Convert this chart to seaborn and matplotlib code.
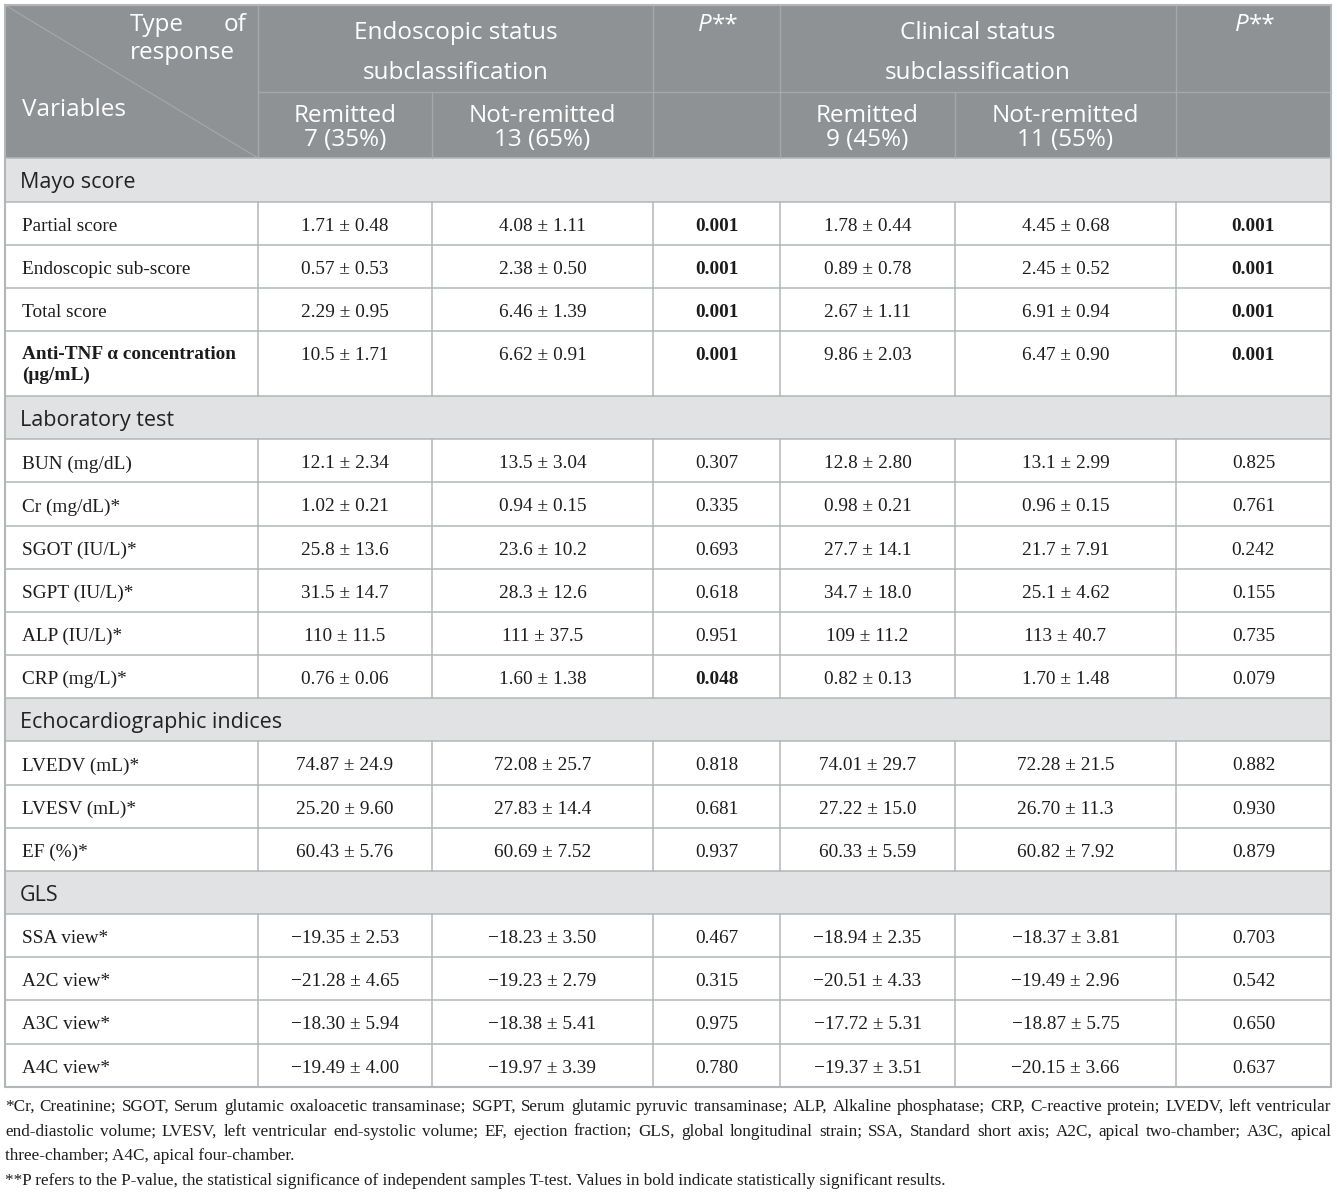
import matplotlib
matplotlib.use("Agg")
import matplotlib.pyplot as plt
from matplotlib.patches import Rectangle
import seaborn as sns

sections = ["Mayo score", "Laboratory test", "Echocardiographic indices", "GLS"]
section_sizes = [4, 6, 3, 4]

variables = ["Partial score", "Endoscopic sub-score", "Total score",
             "Anti-TNF α concentration\n(μg/mL)",
             "BUN (mg/dL)", "Cr (mg/dL)*", "SGOT (IU/L)*", "SGPT (IU/L)*", "ALP (IU/L)*", "CRP (mg/L)*",
             "LVEDV (mL)*", "LVESV (mL)*", "EF (%)*",
             "SSA view*", "A2C view*", "A3C view*", "A4C view*"]
bold_variables = ["Anti-TNF α concentration\n(μg/mL)"]

endo_rem_mean = ["1.71", "0.57", "2.29", "10.5", "12.1", "1.02", "25.8", "31.5", "110", "0.76",
                 "74.87", "25.20", "60.43", "−19.35", "−21.28", "−18.30", "−19.49"]
endo_rem_sd = ["0.48", "0.53", "0.95", "1.71", "2.34", "0.21", "13.6", "14.7", "11.5", "0.06",
               "24.9", "9.60", "5.76", "2.53", "4.65", "5.94", "4.00"]
endo_not_mean = ["4.08", "2.38", "6.46", "6.62", "13.5", "0.94", "23.6", "28.3", "111", "1.60",
                 "72.08", "27.83", "60.69", "−18.23", "−19.23", "−18.38", "−19.97"]
endo_not_sd = ["1.11", "0.50", "1.39", "0.91", "3.04", "0.15", "10.2", "12.6", "37.5", "1.38",
               "25.7", "14.4", "7.52", "3.50", "2.79", "5.41", "3.39"]
endo_p = ["0.001", "0.001", "0.001", "0.001", "0.307", "0.335", "0.693", "0.618", "0.951", "0.048",
          "0.818", "0.681", "0.937", "0.467", "0.315", "0.975", "0.780"]

clin_rem_mean = ["1.78", "0.89", "2.67", "9.86", "12.8", "0.98", "27.7", "34.7", "109", "0.82",
                 "74.01", "27.22", "60.33", "−18.94", "−20.51", "−17.72", "−19.37"]
clin_rem_sd = ["0.44", "0.78", "1.11", "2.03", "2.80", "0.21", "14.1", "18.0", "11.2", "0.13",
               "29.7", "15.0", "5.59", "2.35", "4.33", "5.31", "3.51"]
clin_not_mean = ["4.45", "2.45", "6.91", "6.47", "13.1", "0.96", "21.7", "25.1", "113", "1.70",
                 "72.28", "26.70", "60.82", "−18.37", "−19.49", "−18.87", "−20.15"]
clin_not_sd = ["0.68", "0.52", "0.94", "0.90", "2.99", "0.15", "7.91", "4.62", "40.7", "1.48",
               "21.5", "11.3", "7.92", "3.81", "2.96", "5.75", "3.66"]
clin_p = ["0.001", "0.001", "0.001", "0.001", "0.825", "0.761", "0.242", "0.155", "0.735", "0.079",
          "0.882", "0.930", "0.879", "0.703", "0.542", "0.650", "0.637"]

groups = ["Endoscopic status", "Clinical status"]
sub_labels = ["Remitted", "Not-remitted"]
endo_counts = ["7 (35%)", "13 (65%)"]
clin_counts = ["9 (45%)", "11 (55%)"]

footnotes = [
    "*Cr, Creatinine; SGOT, Serum glutamic oxaloacetic transaminase; SGPT, Serum glutamic pyruvic transaminase; ALP, Alkaline phosphatase; CRP, C-reactive protein; LVEDV, left ventricular",
    "end-diastolic volume; LVESV, left ventricular end-systolic volume; EF, ejection fraction; GLS, global longitudinal strain; SSA, Standard short axis; A2C, apical two-chamber; A3C, apical",
    "three-chamber; A4C, apical four-chamber.",
    "**P refers to the P-value, the statistical significance of independent samples T-test. Values in bold indicate statistically significant results.",
]

# ---- style ----
sns.set_theme(style="white")
plt.rcParams['font.family'] = ['Liberation Serif', 'DejaVu Serif']

HEAD_BG = "#8e9295"
HEAD_LINE = "#a6a9ab"
SEC_BG = "#e1e2e4"
GRID = "#b3b6b8"
TXT = "#1c1c1c"
SANS = ['Open Sans', 'DejaVu Sans']
BODY = 13.9
DY = 3  # text baseline nudge

W, H = 1337, 1194
fig = plt.figure(figsize=(W / 100, H / 100), dpi=100)
ax = fig.add_axes([0, 0, 1, 1])
ax.set_xlim(0, W)
ax.set_ylim(H, 0)
ax.axis('off')

cols = [5, 258, 432, 653, 780, 955, 1176, 1331]
left, right = cols[0], cols[-1]
top, head_mid, head_bot = 5, 92, 158
row_h, sec_h, tall_h = 43.1, 43.5, 65

def centre(i):
    return (cols[i] + cols[i + 1]) / 2

# ---- header ----
ax.add_patch(Rectangle((left, top), right - left, head_bot - top, color=HEAD_BG, lw=0, zorder=0))
ax.plot([left, cols[1]], [top, head_bot], color=HEAD_LINE, lw=0.8, zorder=1)
ax.plot([cols[1], right], [head_mid, head_mid], color=HEAD_LINE, lw=1.0, zorder=1)
for i, x in enumerate(cols[1:-1], start=1):
    y0 = head_mid if i in (2, 5) else top
    ax.plot([x, x], [y0, head_bot], color=HEAD_LINE, lw=1.0, zorder=1)

hk = dict(color="white", fontsize=17.5, family=SANS, weight='normal', va='center')
ax.text(130, 22 + DY, "Type", ha='left', **hk)
ax.text(246, 22 + DY, "of", ha='right', **hk)
ax.text(130, 50 + DY, "response", ha='left', **hk)
ax.text(22, 107 + DY, "Variables", ha='left', **hk)

for g, c0, counts, pcol in [(groups[0], 1, endo_counts, 3), (groups[1], 4, clin_counts, 6)]:
    gx = (cols[c0] + cols[c0 + 2]) / 2
    ax.text(gx, 30 + DY, g, ha='center', **hk)
    ax.text(gx, 70 + DY, "subclassification", ha='center', **hk)
    for k in range(2):
        ax.text(centre(c0 + k), 113 + DY, sub_labels[k], ha='center', **hk)
        ax.text(centre(c0 + k), 137 + DY, counts[k], ha='center', **hk)
    px = centre(pcol) - 5
    ax.text(px, 22 + DY, "P", ha='right', style='italic', **hk)
    ax.text(px, 22 + DY, "**", ha='left', **hk)

# ---- body ----
y = head_bot
start = 0
for sec, n in zip(sections, section_sizes):
    ax.add_patch(Rectangle((left, y), right - left, sec_h, color=SEC_BG, lw=0, zorder=0))
    ax.text(20, y + sec_h / 2 + DY, sec, ha='left', va='center', fontsize=15.5, family=SANS, color="#222222")
    ax.plot([left, right], [y, y], color=GRID, lw=1.1, zorder=2)
    y += sec_h
    for i in range(start, start + n):
        name = variables[i]
        h = tall_h if "\n" in name else row_h
        ax.plot([left, right], [y, y], color=GRID, lw=1.1, zorder=2)
        for x in cols[1:-1]:
            ax.plot([x, x], [y, y + h], color=GRID, lw=1.1, zorder=2)
        weight = 'bold' if name in bold_variables else 'normal'
        if "\n" in name:
            ty = y + 22 + DY
            ax.text(22, y + 12 + DY, name, ha='left', va='top', fontsize=BODY, weight=weight,
                    color=TXT, linespacing=1.3)
        else:
            ty = y + h / 2 + DY
            ax.text(22, ty, name, ha='left', va='center', fontsize=BODY, weight=weight, color=TXT)
        cells = [f"{endo_rem_mean[i]} ± {endo_rem_sd[i]}", f"{endo_not_mean[i]} ± {endo_not_sd[i]}",
                 endo_p[i],
                 f"{clin_rem_mean[i]} ± {clin_rem_sd[i]}", f"{clin_not_mean[i]} ± {clin_not_sd[i]}",
                 clin_p[i]]
        for j, s in enumerate(cells, start=1):
            bold = j in (3, 6) and float(s) < 0.05
            ax.text(centre(j), ty, s, ha='center', va='center', fontsize=BODY,
                    weight='bold' if bold else 'normal', color=TXT)
        y += h
    start += n

ax.plot([left, right], [y, y], color=GRID, lw=1.1, zorder=2)
# outer border
ax.add_patch(Rectangle((left, top), right - left, y - top, fill=False, edgecolor=GRID, lw=1.5, zorder=3))

# ---- footnotes ----
renderer = fig.canvas.get_renderer()
fn_size = 12.8
foot_base = [1111, 1136, 1160, 1185]

def text_width(s, size):
    t = ax.text(0, 0, s, fontsize=size)
    w = t.get_window_extent(renderer).width
    t.remove()
    return w

# shrink if the longest justified line would not fit
widest = max(text_width(l, fn_size) for l in footnotes[:2])
if widest > right - left - 20:
    fn_size *= (right - left - 20) / widest

for k, (line, fy) in enumerate(zip(footnotes, foot_base)):
    if k < 2:
        words = line.split(" ")
        widths = [text_width(w_, fn_size) for w_ in words]
        gap = (right - left - sum(widths)) / (len(words) - 1)
        x = left
        for w_, wd in zip(words, widths):
            ax.text(x, fy, w_, ha='left', va='baseline', fontsize=fn_size, color=TXT)
            x += wd + gap
    else:
        ax.text(left, fy, line, ha='left', va='baseline', fontsize=fn_size, color=TXT)

fig.savefig("out.png", dpi=100)
